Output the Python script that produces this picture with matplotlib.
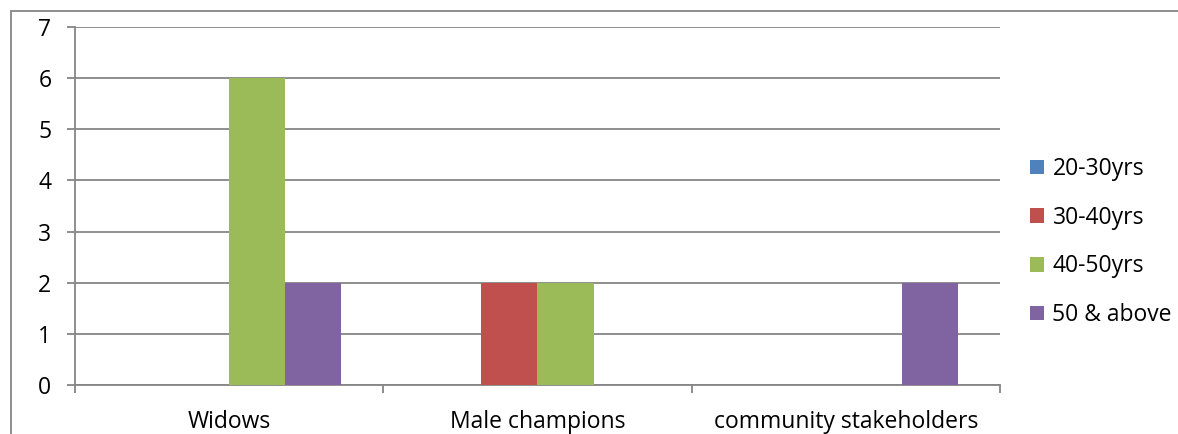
import numpy as np
import matplotlib
matplotlib.use('Agg')
import matplotlib.pyplot as plt
from matplotlib.patches import Rectangle

plt.rcParams['font.family'] = ['Open Sans', 'DejaVu Sans']

categories = ['Widows', 'Male champions', 'community stakeholders']
series = ['20-30yrs', '30-40yrs', '40-50yrs', '50 & above']
values = {
    '20-30yrs': [0, 0, 0],
    '30-40yrs': [0, 2, 0],
    '40-50yrs': [6, 2, 0],
    '50 & above': [2, 0, 2],
}
colors = ['#4F81BD', '#C0504D', '#9BBB59', '#8064A2']
grid_col = '#868686'
fs = 16.5

W, H = 1178, 434
fig = plt.figure(figsize=(W / 100, H / 100), dpi=100)
ax = fig.add_axes([75 / W, (H - 385) / H, (1000 - 75) / W, (385 - 27) / H])

# outer chart border (cropped at right and bottom)
fig.patches.append(Rectangle((11 / W, -0.2), 2.0, (H - 11) / H + 0.2,
                             transform=fig.transFigure, fill=False,
                             edgecolor=grid_col, linewidth=1.3))

x = np.arange(len(categories))
bw = 56 / 308
for i, s in enumerate(series):
    ax.bar(x + (i - 1.5) * bw, values[s], bw, color=colors[i], label=s, zorder=3)

ax.set_xlim(-0.5, len(categories) - 0.5)
ax.set_ylim(0, 7)
ax.set_yticks(range(0, 8))
ax.yaxis.grid(True, color=grid_col, linewidth=1.3)
ax.set_axisbelow(True)

ax.set_xticks(np.arange(-0.5, len(categories), 1.0))
ax.set_xticklabels([])
ax.set_xticks(x, minor=True)
ax.set_xticklabels(categories, minor=True)

for sp in ['top', 'right']:
    ax.spines[sp].set_visible(False)
for sp in ['left', 'bottom']:
    ax.spines[sp].set_color(grid_col)
    ax.spines[sp].set_linewidth(1.3)

ax.tick_params(axis='y', which='major', length=6, width=1.3, color=grid_col,
               labelsize=fs, pad=11)
ax.tick_params(axis='x', which='major', length=6, width=1.3, color=grid_col)
ax.tick_params(axis='x', which='minor', length=0, labelsize=fs, pad=18)

fig.legend(loc='center left', bbox_to_anchor=(1030 / W, (H - 242) / H),
           frameon=False, fontsize=fs, handlelength=0.6, handleheight=0.6,
           handletextpad=0.38, labelspacing=1.08, borderpad=0, borderaxespad=0)

fig.savefig('out.png', dpi=100)
